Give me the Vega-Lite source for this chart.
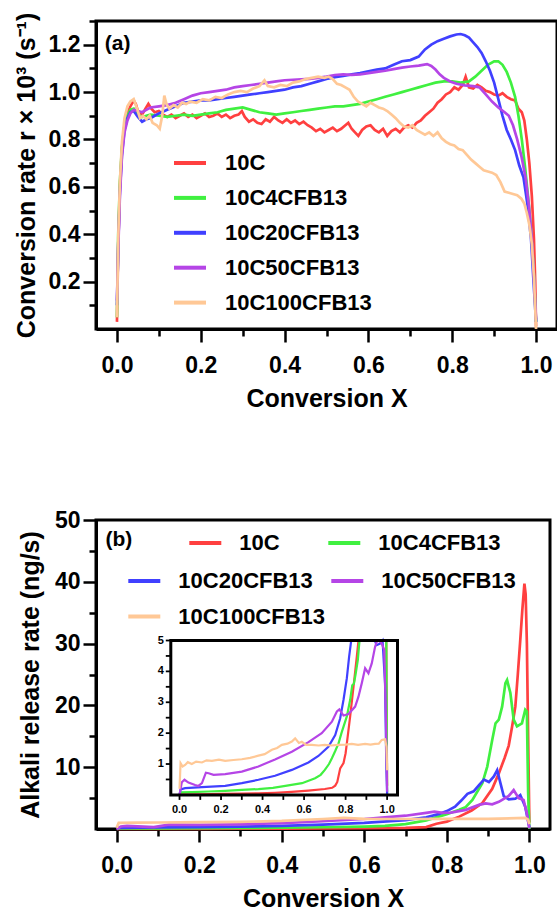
{
"$schema": "https://vega.github.io/schema/vega-lite/v6.json",
"padding": {"left": 12, "top": 10, "right": 0, "bottom": 0},
"spacing": 94,
"config": {
 "font": "Liberation Sans",
 "view": {"stroke": "black", "strokeWidth": 3},
 "axis": {"labelFont": "Liberation Sans", "labelFontWeight": "bold", "labelFontSize": 23, "labelColor": "black", "titleFont": "Liberation Sans", "titleFontWeight": "bold", "titleFontSize": 25, "titleColor": "black", "domainColor": "black", "domainWidth": 3, "tickColor": "black", "tickWidth": 2.5, "grid": false, "labelOverlap": false},
 "legend": {"labelFont": "Liberation Sans", "labelFontWeight": "bold", "labelFontSize": 22, "labelColor": "black", "labelLimit": 300, "padding": 0}
},
"resolve": {"scale": {"color": "independent", "stroke": "independent"}},
"datasets": {
"a": [
{"s":"10C","x":0,"y":0.03},{"s":"10C","x":0.003,"y":0.35},{"s":"10C","x":0.007,"y":0.6},{"s":"10C","x":0.012,"y":0.76},{"s":"10C","x":0.018,"y":0.86},{"s":"10C","x":0.025,"y":0.91},{"s":"10C","x":0.032,"y":0.94},{"s":"10C","x":0.04,"y":0.965},{"s":"10C","x":0.045,"y":0.95},{"s":"10C","x":0.05,"y":0.92},{"s":"10C","x":0.06,"y":0.905},{"s":"10C","x":0.068,"y":0.93},{"s":"10C","x":0.075,"y":0.95},{"s":"10C","x":0.082,"y":0.93},{"s":"10C","x":0.09,"y":0.915},{"s":"10C","x":0.1,"y":0.92},{"s":"10C","x":0.11,"y":0.905},{"s":"10C","x":0.12,"y":0.895},{"s":"10C","x":0.13,"y":0.905},{"s":"10C","x":0.14,"y":0.89},{"s":"10C","x":0.15,"y":0.9},{"s":"10C","x":0.16,"y":0.91},{"s":"10C","x":0.17,"y":0.895},{"s":"10C","x":0.18,"y":0.905},{"s":"10C","x":0.19,"y":0.89},{"s":"10C","x":0.2,"y":0.9},{"s":"10C","x":0.21,"y":0.91},{"s":"10C","x":0.22,"y":0.895},{"s":"10C","x":0.23,"y":0.9},{"s":"10C","x":0.24,"y":0.91},{"s":"10C","x":0.25,"y":0.895},{"s":"10C","x":0.26,"y":0.905},{"s":"10C","x":0.27,"y":0.89},{"s":"10C","x":0.28,"y":0.9},{"s":"10C","x":0.29,"y":0.905},{"s":"10C","x":0.298,"y":0.92},{"s":"10C","x":0.305,"y":0.895},{"s":"10C","x":0.315,"y":0.875},{"s":"10C","x":0.325,"y":0.885},{"s":"10C","x":0.335,"y":0.87},{"s":"10C","x":0.345,"y":0.865},{"s":"10C","x":0.355,"y":0.885},{"s":"10C","x":0.365,"y":0.875},{"s":"10C","x":0.375,"y":0.895},{"s":"10C","x":0.385,"y":0.88},{"s":"10C","x":0.395,"y":0.87},{"s":"10C","x":0.405,"y":0.885},{"s":"10C","x":0.415,"y":0.87},{"s":"10C","x":0.425,"y":0.88},{"s":"10C","x":0.435,"y":0.865},{"s":"10C","x":0.445,"y":0.875},{"s":"10C","x":0.455,"y":0.86},{"s":"10C","x":0.465,"y":0.85},{"s":"10C","x":0.475,"y":0.835},{"s":"10C","x":0.485,"y":0.845},{"s":"10C","x":0.495,"y":0.83},{"s":"10C","x":0.505,"y":0.84},{"s":"10C","x":0.515,"y":0.85},{"s":"10C","x":0.525,"y":0.835},{"s":"10C","x":0.535,"y":0.845},{"s":"10C","x":0.545,"y":0.86},{"s":"10C","x":0.552,"y":0.87},{"s":"10C","x":0.56,"y":0.845},{"s":"10C","x":0.568,"y":0.83},{"s":"10C","x":0.576,"y":0.815},{"s":"10C","x":0.585,"y":0.84},{"s":"10C","x":0.595,"y":0.855},{"s":"10C","x":0.605,"y":0.86},{"s":"10C","x":0.615,"y":0.84},{"s":"10C","x":0.625,"y":0.83},{"s":"10C","x":0.635,"y":0.845},{"s":"10C","x":0.645,"y":0.815},{"s":"10C","x":0.655,"y":0.835},{"s":"10C","x":0.665,"y":0.845},{"s":"10C","x":0.675,"y":0.83},{"s":"10C","x":0.685,"y":0.85},{"s":"10C","x":0.695,"y":0.86},{"s":"10C","x":0.705,"y":0.85},{"s":"10C","x":0.715,"y":0.87},{"s":"10C","x":0.725,"y":0.88},{"s":"10C","x":0.735,"y":0.9},{"s":"10C","x":0.745,"y":0.915},{"s":"10C","x":0.755,"y":0.93},{"s":"10C","x":0.765,"y":0.955},{"s":"10C","x":0.775,"y":0.97},{"s":"10C","x":0.785,"y":0.99},{"s":"10C","x":0.795,"y":1.0},{"s":"10C","x":0.805,"y":1.02},{"s":"10C","x":0.815,"y":1.01},{"s":"10C","x":0.825,"y":1.03},{"s":"10C","x":0.832,"y":1.065},{"s":"10C","x":0.84,"y":1.02},{"s":"10C","x":0.85,"y":1.015},{"s":"10C","x":0.86,"y":1.03},{"s":"10C","x":0.87,"y":1.02},{"s":"10C","x":0.88,"y":1.005},{"s":"10C","x":0.89,"y":1.0},{"s":"10C","x":0.9,"y":0.99},{"s":"10C","x":0.91,"y":0.985},{"s":"10C","x":0.92,"y":0.995},{"s":"10C","x":0.93,"y":0.98},{"s":"10C","x":0.94,"y":0.97},{"s":"10C","x":0.95,"y":0.965},{"s":"10C","x":0.958,"y":0.93},{"s":"10C","x":0.966,"y":0.915},{"s":"10C","x":0.972,"y":0.88},{"s":"10C","x":0.978,"y":0.8},{"s":"10C","x":0.984,"y":0.7},{"s":"10C","x":0.99,"y":0.56},{"s":"10C","x":0.995,"y":0.38},{"s":"10C","x":0.998,"y":0.2},{"s":"10C","x":1.0,"y":0.01},
{"s":"10C4CFB13","x":0,"y":0.05},{"s":"10C4CFB13","x":0.003,"y":0.4},{"s":"10C4CFB13","x":0.007,"y":0.62},{"s":"10C4CFB13","x":0.012,"y":0.77},{"s":"10C4CFB13","x":0.018,"y":0.86},{"s":"10C4CFB13","x":0.025,"y":0.9},{"s":"10C4CFB13","x":0.032,"y":0.925},{"s":"10C4CFB13","x":0.04,"y":0.93},{"s":"10C4CFB13","x":0.05,"y":0.905},{"s":"10C4CFB13","x":0.06,"y":0.895},{"s":"10C4CFB13","x":0.07,"y":0.9},{"s":"10C4CFB13","x":0.08,"y":0.905},{"s":"10C4CFB13","x":0.1,"y":0.9},{"s":"10C4CFB13","x":0.12,"y":0.895},{"s":"10C4CFB13","x":0.14,"y":0.9},{"s":"10C4CFB13","x":0.16,"y":0.905},{"s":"10C4CFB13","x":0.18,"y":0.9},{"s":"10C4CFB13","x":0.2,"y":0.905},{"s":"10C4CFB13","x":0.22,"y":0.91},{"s":"10C4CFB13","x":0.24,"y":0.915},{"s":"10C4CFB13","x":0.26,"y":0.925},{"s":"10C4CFB13","x":0.28,"y":0.93},{"s":"10C4CFB13","x":0.3,"y":0.935},{"s":"10C4CFB13","x":0.32,"y":0.925},{"s":"10C4CFB13","x":0.34,"y":0.915},{"s":"10C4CFB13","x":0.36,"y":0.91},{"s":"10C4CFB13","x":0.38,"y":0.905},{"s":"10C4CFB13","x":0.4,"y":0.91},{"s":"10C4CFB13","x":0.42,"y":0.915},{"s":"10C4CFB13","x":0.44,"y":0.92},{"s":"10C4CFB13","x":0.46,"y":0.925},{"s":"10C4CFB13","x":0.48,"y":0.93},{"s":"10C4CFB13","x":0.5,"y":0.935},{"s":"10C4CFB13","x":0.52,"y":0.94},{"s":"10C4CFB13","x":0.54,"y":0.94},{"s":"10C4CFB13","x":0.56,"y":0.945},{"s":"10C4CFB13","x":0.58,"y":0.95},{"s":"10C4CFB13","x":0.6,"y":0.96},{"s":"10C4CFB13","x":0.62,"y":0.97},{"s":"10C4CFB13","x":0.64,"y":0.98},{"s":"10C4CFB13","x":0.66,"y":0.99},{"s":"10C4CFB13","x":0.68,"y":1.0},{"s":"10C4CFB13","x":0.7,"y":1.01},{"s":"10C4CFB13","x":0.72,"y":1.02},{"s":"10C4CFB13","x":0.74,"y":1.03},{"s":"10C4CFB13","x":0.76,"y":1.04},{"s":"10C4CFB13","x":0.78,"y":1.045},{"s":"10C4CFB13","x":0.8,"y":1.045},{"s":"10C4CFB13","x":0.82,"y":1.04},{"s":"10C4CFB13","x":0.84,"y":1.045},{"s":"10C4CFB13","x":0.855,"y":1.065},{"s":"10C4CFB13","x":0.87,"y":1.09},{"s":"10C4CFB13","x":0.885,"y":1.115},{"s":"10C4CFB13","x":0.9,"y":1.13},{"s":"10C4CFB13","x":0.91,"y":1.13},{"s":"10C4CFB13","x":0.92,"y":1.115},{"s":"10C4CFB13","x":0.93,"y":1.085},{"s":"10C4CFB13","x":0.94,"y":1.04},{"s":"10C4CFB13","x":0.95,"y":0.98},{"s":"10C4CFB13","x":0.958,"y":0.9},{"s":"10C4CFB13","x":0.966,"y":0.8},{"s":"10C4CFB13","x":0.974,"y":0.68},{"s":"10C4CFB13","x":0.982,"y":0.54},{"s":"10C4CFB13","x":0.988,"y":0.42},{"s":"10C4CFB13","x":0.994,"y":0.26},{"s":"10C4CFB13","x":1.0,"y":0.03},
{"s":"10C20CFB13","x":0,"y":0.1},{"s":"10C20CFB13","x":0.003,"y":0.35},{"s":"10C20CFB13","x":0.007,"y":0.58},{"s":"10C20CFB13","x":0.012,"y":0.74},{"s":"10C20CFB13","x":0.018,"y":0.84},{"s":"10C20CFB13","x":0.025,"y":0.89},{"s":"10C20CFB13","x":0.032,"y":0.915},{"s":"10C20CFB13","x":0.04,"y":0.92},{"s":"10C20CFB13","x":0.05,"y":0.895},{"s":"10C20CFB13","x":0.06,"y":0.875},{"s":"10C20CFB13","x":0.07,"y":0.885},{"s":"10C20CFB13","x":0.08,"y":0.89},{"s":"10C20CFB13","x":0.09,"y":0.9},{"s":"10C20CFB13","x":0.1,"y":0.91},{"s":"10C20CFB13","x":0.12,"y":0.925},{"s":"10C20CFB13","x":0.14,"y":0.94},{"s":"10C20CFB13","x":0.16,"y":0.955},{"s":"10C20CFB13","x":0.18,"y":0.96},{"s":"10C20CFB13","x":0.2,"y":0.965},{"s":"10C20CFB13","x":0.22,"y":0.965},{"s":"10C20CFB13","x":0.24,"y":0.97},{"s":"10C20CFB13","x":0.26,"y":0.975},{"s":"10C20CFB13","x":0.28,"y":0.98},{"s":"10C20CFB13","x":0.3,"y":0.985},{"s":"10C20CFB13","x":0.32,"y":0.99},{"s":"10C20CFB13","x":0.34,"y":0.995},{"s":"10C20CFB13","x":0.36,"y":1.0},{"s":"10C20CFB13","x":0.38,"y":1.005},{"s":"10C20CFB13","x":0.4,"y":1.01},{"s":"10C20CFB13","x":0.42,"y":1.02},{"s":"10C20CFB13","x":0.44,"y":1.025},{"s":"10C20CFB13","x":0.46,"y":1.035},{"s":"10C20CFB13","x":0.48,"y":1.045},{"s":"10C20CFB13","x":0.5,"y":1.055},{"s":"10C20CFB13","x":0.52,"y":1.063},{"s":"10C20CFB13","x":0.54,"y":1.068},{"s":"10C20CFB13","x":0.56,"y":1.075},{"s":"10C20CFB13","x":0.58,"y":1.08},{"s":"10C20CFB13","x":0.6,"y":1.088},{"s":"10C20CFB13","x":0.62,"y":1.095},{"s":"10C20CFB13","x":0.64,"y":1.1},{"s":"10C20CFB13","x":0.66,"y":1.115},{"s":"10C20CFB13","x":0.68,"y":1.13},{"s":"10C20CFB13","x":0.7,"y":1.135},{"s":"10C20CFB13","x":0.72,"y":1.15},{"s":"10C20CFB13","x":0.735,"y":1.18},{"s":"10C20CFB13","x":0.75,"y":1.2},{"s":"10C20CFB13","x":0.765,"y":1.215},{"s":"10C20CFB13","x":0.78,"y":1.225},{"s":"10C20CFB13","x":0.795,"y":1.235},{"s":"10C20CFB13","x":0.81,"y":1.243},{"s":"10C20CFB13","x":0.82,"y":1.245},{"s":"10C20CFB13","x":0.83,"y":1.24},{"s":"10C20CFB13","x":0.84,"y":1.23},{"s":"10C20CFB13","x":0.85,"y":1.21},{"s":"10C20CFB13","x":0.86,"y":1.19},{"s":"10C20CFB13","x":0.87,"y":1.165},{"s":"10C20CFB13","x":0.88,"y":1.13},{"s":"10C20CFB13","x":0.89,"y":1.09},{"s":"10C20CFB13","x":0.9,"y":1.04},{"s":"10C20CFB13","x":0.91,"y":0.97},{"s":"10C20CFB13","x":0.92,"y":0.9},{"s":"10C20CFB13","x":0.93,"y":0.84},{"s":"10C20CFB13","x":0.94,"y":0.8},{"s":"10C20CFB13","x":0.95,"y":0.755},{"s":"10C20CFB13","x":0.96,"y":0.69},{"s":"10C20CFB13","x":0.97,"y":0.64},{"s":"10C20CFB13","x":0.98,"y":0.52},{"s":"10C20CFB13","x":0.988,"y":0.38},{"s":"10C20CFB13","x":0.994,"y":0.2},{"s":"10C20CFB13","x":1.0,"y":0.03},
{"s":"10C50CFB13","x":0,"y":0.12},{"s":"10C50CFB13","x":0.003,"y":0.33},{"s":"10C50CFB13","x":0.007,"y":0.56},{"s":"10C50CFB13","x":0.012,"y":0.73},{"s":"10C50CFB13","x":0.018,"y":0.83},{"s":"10C50CFB13","x":0.025,"y":0.88},{"s":"10C50CFB13","x":0.032,"y":0.91},{"s":"10C50CFB13","x":0.04,"y":0.925},{"s":"10C50CFB13","x":0.05,"y":0.92},{"s":"10C50CFB13","x":0.06,"y":0.915},{"s":"10C50CFB13","x":0.07,"y":0.925},{"s":"10C50CFB13","x":0.08,"y":0.935},{"s":"10C50CFB13","x":0.1,"y":0.94},{"s":"10C50CFB13","x":0.12,"y":0.945},{"s":"10C50CFB13","x":0.14,"y":0.955},{"s":"10C50CFB13","x":0.16,"y":0.97},{"s":"10C50CFB13","x":0.18,"y":0.985},{"s":"10C50CFB13","x":0.2,"y":0.995},{"s":"10C50CFB13","x":0.22,"y":1.0},{"s":"10C50CFB13","x":0.24,"y":1.005},{"s":"10C50CFB13","x":0.26,"y":1.01},{"s":"10C50CFB13","x":0.28,"y":1.02},{"s":"10C50CFB13","x":0.3,"y":1.025},{"s":"10C50CFB13","x":0.32,"y":1.03},{"s":"10C50CFB13","x":0.34,"y":1.035},{"s":"10C50CFB13","x":0.36,"y":1.04},{"s":"10C50CFB13","x":0.38,"y":1.045},{"s":"10C50CFB13","x":0.4,"y":1.05},{"s":"10C50CFB13","x":0.42,"y":1.052},{"s":"10C50CFB13","x":0.44,"y":1.054},{"s":"10C50CFB13","x":0.46,"y":1.056},{"s":"10C50CFB13","x":0.48,"y":1.06},{"s":"10C50CFB13","x":0.5,"y":1.065},{"s":"10C50CFB13","x":0.52,"y":1.072},{"s":"10C50CFB13","x":0.54,"y":1.075},{"s":"10C50CFB13","x":0.56,"y":1.073},{"s":"10C50CFB13","x":0.58,"y":1.075},{"s":"10C50CFB13","x":0.6,"y":1.08},{"s":"10C50CFB13","x":0.62,"y":1.085},{"s":"10C50CFB13","x":0.64,"y":1.09},{"s":"10C50CFB13","x":0.66,"y":1.097},{"s":"10C50CFB13","x":0.68,"y":1.103},{"s":"10C50CFB13","x":0.7,"y":1.108},{"s":"10C50CFB13","x":0.72,"y":1.112},{"s":"10C50CFB13","x":0.74,"y":1.118},{"s":"10C50CFB13","x":0.75,"y":1.11},{"s":"10C50CFB13","x":0.76,"y":1.095},{"s":"10C50CFB13","x":0.77,"y":1.075},{"s":"10C50CFB13","x":0.78,"y":1.06},{"s":"10C50CFB13","x":0.795,"y":1.045},{"s":"10C50CFB13","x":0.81,"y":1.035},{"s":"10C50CFB13","x":0.83,"y":1.028},{"s":"10C50CFB13","x":0.85,"y":1.025},{"s":"10C50CFB13","x":0.865,"y":1.02},{"s":"10C50CFB13","x":0.88,"y":0.99},{"s":"10C50CFB13","x":0.895,"y":0.96},{"s":"10C50CFB13","x":0.91,"y":0.935},{"s":"10C50CFB13","x":0.925,"y":0.915},{"s":"10C50CFB13","x":0.935,"y":0.9},{"s":"10C50CFB13","x":0.945,"y":0.86},{"s":"10C50CFB13","x":0.955,"y":0.8},{"s":"10C50CFB13","x":0.965,"y":0.73},{"s":"10C50CFB13","x":0.975,"y":0.64},{"s":"10C50CFB13","x":0.983,"y":0.52},{"s":"10C50CFB13","x":0.99,"y":0.38},{"s":"10C50CFB13","x":0.995,"y":0.22},{"s":"10C50CFB13","x":1.0,"y":0.04},
{"s":"10C100CFB13","x":0,"y":0.05},{"s":"10C100CFB13","x":0.003,"y":0.38},{"s":"10C100CFB13","x":0.007,"y":0.62},{"s":"10C100CFB13","x":0.012,"y":0.79},{"s":"10C100CFB13","x":0.018,"y":0.89},{"s":"10C100CFB13","x":0.025,"y":0.94},{"s":"10C100CFB13","x":0.032,"y":0.96},{"s":"10C100CFB13","x":0.04,"y":0.97},{"s":"10C100CFB13","x":0.048,"y":0.93},{"s":"10C100CFB13","x":0.055,"y":0.89},{"s":"10C100CFB13","x":0.062,"y":0.9},{"s":"10C100CFB13","x":0.07,"y":0.885},{"s":"10C100CFB13","x":0.078,"y":0.9},{"s":"10C100CFB13","x":0.085,"y":0.87},{"s":"10C100CFB13","x":0.095,"y":0.86},{"s":"10C100CFB13","x":0.102,"y":0.845},{"s":"10C100CFB13","x":0.108,"y":0.9},{"s":"10C100CFB13","x":0.113,"y":0.985},{"s":"10C100CFB13","x":0.118,"y":0.95},{"s":"10C100CFB13","x":0.125,"y":0.93},{"s":"10C100CFB13","x":0.135,"y":0.945},{"s":"10C100CFB13","x":0.145,"y":0.935},{"s":"10C100CFB13","x":0.155,"y":0.955},{"s":"10C100CFB13","x":0.165,"y":0.95},{"s":"10C100CFB13","x":0.175,"y":0.96},{"s":"10C100CFB13","x":0.19,"y":0.955},{"s":"10C100CFB13","x":0.205,"y":0.97},{"s":"10C100CFB13","x":0.22,"y":0.965},{"s":"10C100CFB13","x":0.235,"y":0.98},{"s":"10C100CFB13","x":0.25,"y":0.975},{"s":"10C100CFB13","x":0.265,"y":0.99},{"s":"10C100CFB13","x":0.28,"y":1.0},{"s":"10C100CFB13","x":0.295,"y":1.005},{"s":"10C100CFB13","x":0.31,"y":1.0},{"s":"10C100CFB13","x":0.325,"y":1.015},{"s":"10C100CFB13","x":0.34,"y":1.025},{"s":"10C100CFB13","x":0.352,"y":1.05},{"s":"10C100CFB13","x":0.36,"y":1.025},{"s":"10C100CFB13","x":0.375,"y":1.02},{"s":"10C100CFB13","x":0.39,"y":1.03},{"s":"10C100CFB13","x":0.405,"y":1.025},{"s":"10C100CFB13","x":0.42,"y":1.04},{"s":"10C100CFB13","x":0.435,"y":1.045},{"s":"10C100CFB13","x":0.45,"y":1.055},{"s":"10C100CFB13","x":0.465,"y":1.06},{"s":"10C100CFB13","x":0.48,"y":1.065},{"s":"10C100CFB13","x":0.495,"y":1.06},{"s":"10C100CFB13","x":0.505,"y":1.065},{"s":"10C100CFB13","x":0.515,"y":1.055},{"s":"10C100CFB13","x":0.525,"y":1.035},{"s":"10C100CFB13","x":0.535,"y":1.03},{"s":"10C100CFB13","x":0.545,"y":1.02},{"s":"10C100CFB13","x":0.555,"y":1.01},{"s":"10C100CFB13","x":0.565,"y":0.98},{"s":"10C100CFB13","x":0.575,"y":0.96},{"s":"10C100CFB13","x":0.585,"y":0.95},{"s":"10C100CFB13","x":0.595,"y":0.94},{"s":"10C100CFB13","x":0.605,"y":0.955},{"s":"10C100CFB13","x":0.615,"y":0.945},{"s":"10C100CFB13","x":0.625,"y":0.935},{"s":"10C100CFB13","x":0.635,"y":0.93},{"s":"10C100CFB13","x":0.645,"y":0.92},{"s":"10C100CFB13","x":0.655,"y":0.905},{"s":"10C100CFB13","x":0.665,"y":0.89},{"s":"10C100CFB13","x":0.675,"y":0.87},{"s":"10C100CFB13","x":0.685,"y":0.855},{"s":"10C100CFB13","x":0.695,"y":0.85},{"s":"10C100CFB13","x":0.705,"y":0.86},{"s":"10C100CFB13","x":0.715,"y":0.84},{"s":"10C100CFB13","x":0.725,"y":0.83},{"s":"10C100CFB13","x":0.735,"y":0.82},{"s":"10C100CFB13","x":0.745,"y":0.83},{"s":"10C100CFB13","x":0.755,"y":0.815},{"s":"10C100CFB13","x":0.765,"y":0.83},{"s":"10C100CFB13","x":0.775,"y":0.805},{"s":"10C100CFB13","x":0.785,"y":0.79},{"s":"10C100CFB13","x":0.795,"y":0.78},{"s":"10C100CFB13","x":0.805,"y":0.775},{"s":"10C100CFB13","x":0.815,"y":0.76},{"s":"10C100CFB13","x":0.825,"y":0.755},{"s":"10C100CFB13","x":0.835,"y":0.735},{"s":"10C100CFB13","x":0.845,"y":0.715},{"s":"10C100CFB13","x":0.855,"y":0.7},{"s":"10C100CFB13","x":0.865,"y":0.685},{"s":"10C100CFB13","x":0.875,"y":0.67},{"s":"10C100CFB13","x":0.885,"y":0.665},{"s":"10C100CFB13","x":0.895,"y":0.66},{"s":"10C100CFB13","x":0.905,"y":0.65},{"s":"10C100CFB13","x":0.915,"y":0.62},{"s":"10C100CFB13","x":0.925,"y":0.58},{"s":"10C100CFB13","x":0.935,"y":0.575},{"s":"10C100CFB13","x":0.945,"y":0.57},{"s":"10C100CFB13","x":0.955,"y":0.565},{"s":"10C100CFB13","x":0.965,"y":0.55},{"s":"10C100CFB13","x":0.972,"y":0.53},{"s":"10C100CFB13","x":0.978,"y":0.49},{"s":"10C100CFB13","x":0.984,"y":0.44},{"s":"10C100CFB13","x":0.99,"y":0.36},{"s":"10C100CFB13","x":0.995,"y":0.22},{"s":"10C100CFB13","x":1.0,"y":0.0}
],
"b": [
{"s":"10C","x":0,"y":0},{"s":"10C","x":0.1,"y":0.02},{"s":"10C","x":0.2,"y":0.03},{"s":"10C","x":0.3,"y":0.04},{"s":"10C","x":0.4,"y":0.05},{"s":"10C","x":0.5,"y":0.08},{"s":"10C","x":0.6,"y":0.12},{"s":"10C","x":0.7,"y":0.19},{"s":"10C","x":0.75,"y":0.3},{"s":"10C","x":0.775,"y":0.85},{"s":"10C","x":0.8,"y":1.2},{"s":"10C","x":0.83,"y":2.0},{"s":"10C","x":0.86,"y":3.0},{"s":"10C","x":0.886,"y":4.2},{"s":"10C","x":0.91,"y":6.5},{"s":"10C","x":0.926,"y":9.0},{"s":"10C","x":0.94,"y":11.5},{"s":"10C","x":0.95,"y":13.5},{"s":"10C","x":0.958,"y":16.5},{"s":"10C","x":0.966,"y":19.8},{"s":"10C","x":0.972,"y":25},{"s":"10C","x":0.978,"y":30.6},{"s":"10C","x":0.983,"y":35.5},{"s":"10C","x":0.988,"y":39.7},{"s":"10C","x":0.991,"y":38},{"s":"10C","x":0.994,"y":30},{"s":"10C","x":0.997,"y":15},{"s":"10C","x":1.0,"y":1.0},
{"s":"10C4CFB13","x":0,"y":0},{"s":"10C4CFB13","x":0.005,"y":0.08},{"s":"10C4CFB13","x":0.1,"y":0.1},{"s":"10C4CFB13","x":0.2,"y":0.13},{"s":"10C4CFB13","x":0.3,"y":0.16},{"s":"10C4CFB13","x":0.4,"y":0.2},{"s":"10C4CFB13","x":0.5,"y":0.28},{"s":"10C4CFB13","x":0.6,"y":0.4},{"s":"10C4CFB13","x":0.65,"y":0.52},{"s":"10C4CFB13","x":0.7,"y":0.8},{"s":"10C4CFB13","x":0.75,"y":1.4},{"s":"10C4CFB13","x":0.78,"y":2.0},{"s":"10C4CFB13","x":0.8,"y":2.4},{"s":"10C4CFB13","x":0.83,"y":3.1},{"s":"10C4CFB13","x":0.845,"y":3.5},{"s":"10C4CFB13","x":0.862,"y":4.7},{"s":"10C4CFB13","x":0.886,"y":7.4},{"s":"10C4CFB13","x":0.898,"y":10.1},{"s":"10C4CFB13","x":0.91,"y":14.4},{"s":"10C4CFB13","x":0.918,"y":17.1},{"s":"10C4CFB13","x":0.926,"y":17.7},{"s":"10C4CFB13","x":0.934,"y":19.8},{"s":"10C4CFB13","x":0.942,"y":23.6},{"s":"10C4CFB13","x":0.946,"y":24.1},{"s":"10C4CFB13","x":0.954,"y":22},{"s":"10C4CFB13","x":0.962,"y":17.7},{"s":"10C4CFB13","x":0.97,"y":16.6},{"s":"10C4CFB13","x":0.982,"y":17.1},{"s":"10C4CFB13","x":0.99,"y":19.3},{"s":"10C4CFB13","x":0.994,"y":19.0},{"s":"10C4CFB13","x":0.997,"y":6},{"s":"10C4CFB13","x":1.0,"y":0},
{"s":"10C20CFB13","x":0,"y":0},{"s":"10C20CFB13","x":0.005,"y":0.18},{"s":"10C20CFB13","x":0.1,"y":0.25},{"s":"10C20CFB13","x":0.2,"y":0.29},{"s":"10C20CFB13","x":0.3,"y":0.38},{"s":"10C20CFB13","x":0.4,"y":0.5},{"s":"10C20CFB13","x":0.5,"y":0.7},{"s":"10C20CFB13","x":0.6,"y":0.98},{"s":"10C20CFB13","x":0.7,"y":1.45},{"s":"10C20CFB13","x":0.75,"y":1.9},{"s":"10C20CFB13","x":0.78,"y":2.4},{"s":"10C20CFB13","x":0.8,"y":2.9},{"s":"10C20CFB13","x":0.82,"y":3.6},{"s":"10C20CFB13","x":0.835,"y":4.6},{"s":"10C20CFB13","x":0.85,"y":5.7},{"s":"10C20CFB13","x":0.865,"y":6.1},{"s":"10C20CFB13","x":0.878,"y":7.1},{"s":"10C20CFB13","x":0.89,"y":8.0},{"s":"10C20CFB13","x":0.902,"y":7.6},{"s":"10C20CFB13","x":0.914,"y":8.5},{"s":"10C20CFB13","x":0.922,"y":9.5},{"s":"10C20CFB13","x":0.93,"y":7.4},{"s":"10C20CFB13","x":0.938,"y":5.3},{"s":"10C20CFB13","x":0.95,"y":4.8},{"s":"10C20CFB13","x":0.966,"y":4.9},{"s":"10C20CFB13","x":0.978,"y":5.5},{"s":"10C20CFB13","x":0.99,"y":3.6},{"s":"10C20CFB13","x":1.0,"y":0.3},
{"s":"10C50CFB13","x":0,"y":0},{"s":"10C50CFB13","x":0.01,"y":0.4},{"s":"10C50CFB13","x":0.025,"y":0.5},{"s":"10C50CFB13","x":0.09,"y":0.3},{"s":"10C50CFB13","x":0.127,"y":0.72},{"s":"10C50CFB13","x":0.2,"y":0.67},{"s":"10C50CFB13","x":0.3,"y":0.76},{"s":"10C50CFB13","x":0.4,"y":0.95},{"s":"10C50CFB13","x":0.5,"y":1.25},{"s":"10C50CFB13","x":0.6,"y":1.62},{"s":"10C50CFB13","x":0.7,"y":2.15},{"s":"10C50CFB13","x":0.75,"y":2.6},{"s":"10C50CFB13","x":0.77,"y":2.8},{"s":"10C50CFB13","x":0.79,"y":2.6},{"s":"10C50CFB13","x":0.81,"y":2.65},{"s":"10C50CFB13","x":0.846,"y":3.1},{"s":"10C50CFB13","x":0.878,"y":3.9},{"s":"10C50CFB13","x":0.894,"y":4.15},{"s":"10C50CFB13","x":0.91,"y":4.0},{"s":"10C50CFB13","x":0.926,"y":4.4},{"s":"10C50CFB13","x":0.95,"y":5.35},{"s":"10C50CFB13","x":0.962,"y":6.3},{"s":"10C50CFB13","x":0.974,"y":5.0},{"s":"10C50CFB13","x":0.986,"y":4.7},{"s":"10C50CFB13","x":0.994,"y":2.5},{"s":"10C50CFB13","x":1.0,"y":0.1},
{"s":"10C100CFB13","x":0,"y":0.2},{"s":"10C100CFB13","x":0.005,"y":1.0},{"s":"10C100CFB13","x":0.05,"y":1.03},{"s":"10C100CFB13","x":0.1,"y":1.05},{"s":"10C100CFB13","x":0.2,"y":1.12},{"s":"10C100CFB13","x":0.3,"y":1.16},{"s":"10C100CFB13","x":0.4,"y":1.3},{"s":"10C100CFB13","x":0.5,"y":1.62},{"s":"10C100CFB13","x":0.55,"y":1.8},{"s":"10C100CFB13","x":0.6,"y":1.65},{"s":"10C100CFB13","x":0.7,"y":1.62},{"s":"10C100CFB13","x":0.8,"y":1.65},{"s":"10C100CFB13","x":0.9,"y":1.65},{"s":"10C100CFB13","x":0.97,"y":1.75},{"s":"10C100CFB13","x":0.99,"y":1.8},{"s":"10C100CFB13","x":0.997,"y":1.5},{"s":"10C100CFB13","x":1.0,"y":0.8}
],
"ins": [
{"s":"10C","x":0,"y":0},{"s":"10C","x":0.005,"y":0.02},{"s":"10C","x":0.1,"y":0.02},{"s":"10C","x":0.2,"y":0.03},{"s":"10C","x":0.3,"y":0.04},{"s":"10C","x":0.38,"y":0.05},{"s":"10C","x":0.46,"y":0.07},{"s":"10C","x":0.54,"y":0.1},{"s":"10C","x":0.62,"y":0.14},{"s":"10C","x":0.7,"y":0.19},{"s":"10C","x":0.735,"y":0.23},{"s":"10C","x":0.75,"y":0.3},{"s":"10C","x":0.76,"y":0.42},{"s":"10C","x":0.774,"y":0.86},{"s":"10C","x":0.79,"y":1.03},{"s":"10C","x":0.8,"y":1.35},{"s":"10C","x":0.806,"y":1.67},{"s":"10C","x":0.822,"y":2.54},{"s":"10C","x":0.838,"y":3.5},{"s":"10C","x":0.854,"y":4.48},{"s":"10C","x":0.862,"y":5.0},{"s":"10C","x":0.875,"y":6.0},{"s":"10C","x":0.99,"y":30},{"s":"10C","x":0.996,"y":20},{"s":"10C","x":1.0,"y":0.3},
{"s":"10C4CFB13","x":0,"y":0},{"s":"10C4CFB13","x":0.005,"y":0.08},{"s":"10C4CFB13","x":0.06,"y":0.09},{"s":"10C4CFB13","x":0.14,"y":0.11},{"s":"10C4CFB13","x":0.22,"y":0.13},{"s":"10C4CFB13","x":0.3,"y":0.16},{"s":"10C4CFB13","x":0.38,"y":0.19},{"s":"10C4CFB13","x":0.45,"y":0.23},{"s":"10C4CFB13","x":0.51,"y":0.29},{"s":"10C4CFB13","x":0.59,"y":0.38},{"s":"10C4CFB13","x":0.653,"y":0.54},{"s":"10C4CFB13","x":0.68,"y":0.65},{"s":"10C4CFB13","x":0.7,"y":0.81},{"s":"10C4CFB13","x":0.72,"y":1.0},{"s":"10C4CFB13","x":0.734,"y":1.19},{"s":"10C4CFB13","x":0.75,"y":1.42},{"s":"10C4CFB13","x":0.766,"y":1.67},{"s":"10C4CFB13","x":0.78,"y":2.0},{"s":"10C4CFB13","x":0.79,"y":2.21},{"s":"10C4CFB13","x":0.806,"y":2.54},{"s":"10C4CFB13","x":0.822,"y":3.08},{"s":"10C4CFB13","x":0.832,"y":3.55},{"s":"10C4CFB13","x":0.84,"y":3.6},{"s":"10C4CFB13","x":0.848,"y":3.9},{"s":"10C4CFB13","x":0.859,"y":4.37},{"s":"10C4CFB13","x":0.867,"y":5.0},{"s":"10C4CFB13","x":0.88,"y":6.5},{"s":"10C4CFB13","x":0.99,"y":19},{"s":"10C4CFB13","x":0.996,"y":19},{"s":"10C4CFB13","x":1.0,"y":0},
{"s":"10C20CFB13","x":0,"y":0},{"s":"10C20CFB13","x":0.005,"y":0.18},{"s":"10C20CFB13","x":0.027,"y":0.22},{"s":"10C20CFB13","x":0.108,"y":0.25},{"s":"10C20CFB13","x":0.22,"y":0.29},{"s":"10C20CFB13","x":0.3,"y":0.38},{"s":"10C20CFB13","x":0.38,"y":0.49},{"s":"10C20CFB13","x":0.46,"y":0.62},{"s":"10C20CFB13","x":0.541,"y":0.81},{"s":"10C20CFB13","x":0.621,"y":1.05},{"s":"10C20CFB13","x":0.669,"y":1.26},{"s":"10C20CFB13","x":0.717,"y":1.56},{"s":"10C20CFB13","x":0.75,"y":1.94},{"s":"10C20CFB13","x":0.774,"y":2.48},{"s":"10C20CFB13","x":0.79,"y":3.08},{"s":"10C20CFB13","x":0.806,"y":3.78},{"s":"10C20CFB13","x":0.817,"y":4.48},{"s":"10C20CFB13","x":0.827,"y":5.0},{"s":"10C20CFB13","x":0.84,"y":5.5},{"s":"10C20CFB13","x":0.93,"y":7.4},{"s":"10C20CFB13","x":0.94,"y":5.2},{"s":"10C20CFB13","x":0.95,"y":4.85},{"s":"10C20CFB13","x":0.966,"y":4.9},{"s":"10C20CFB13","x":0.978,"y":5.5},{"s":"10C20CFB13","x":0.99,"y":3.6},{"s":"10C20CFB13","x":0.996,"y":1.0},{"s":"10C20CFB13","x":1.0,"y":0},
{"s":"10C50CFB13","x":0,"y":0},{"s":"10C50CFB13","x":0.011,"y":0.41},{"s":"10C50CFB13","x":0.024,"y":0.49},{"s":"10C50CFB13","x":0.043,"y":0.4},{"s":"10C50CFB13","x":0.075,"y":0.32},{"s":"10C50CFB13","x":0.091,"y":0.29},{"s":"10C50CFB13","x":0.108,"y":0.38},{"s":"10C50CFB13","x":0.127,"y":0.72},{"s":"10C50CFB13","x":0.14,"y":0.7},{"s":"10C50CFB13","x":0.164,"y":0.65},{"s":"10C50CFB13","x":0.22,"y":0.67},{"s":"10C50CFB13","x":0.3,"y":0.755},{"s":"10C50CFB13","x":0.38,"y":0.92},{"s":"10C50CFB13","x":0.46,"y":1.15},{"s":"10C50CFB13","x":0.541,"y":1.4},{"s":"10C50CFB13","x":0.621,"y":1.71},{"s":"10C50CFB13","x":0.685,"y":2.0},{"s":"10C50CFB13","x":0.734,"y":2.37},{"s":"10C50CFB13","x":0.758,"y":2.7},{"s":"10C50CFB13","x":0.77,"y":2.77},{"s":"10C50CFB13","x":0.79,"y":2.57},{"s":"10C50CFB13","x":0.814,"y":2.62},{"s":"10C50CFB13","x":0.846,"y":2.86},{"s":"10C50CFB13","x":0.862,"y":3.18},{"s":"10C50CFB13","x":0.878,"y":3.62},{"s":"10C50CFB13","x":0.894,"y":4.1},{"s":"10C50CFB13","x":0.91,"y":3.94},{"s":"10C50CFB13","x":0.926,"y":4.26},{"s":"10C50CFB13","x":0.942,"y":4.8},{"s":"10C50CFB13","x":0.95,"y":4.96},{"s":"10C50CFB13","x":0.962,"y":5.6},{"s":"10C50CFB13","x":0.974,"y":4.9},{"s":"10C50CFB13","x":0.986,"y":4.7},{"s":"10C50CFB13","x":0.994,"y":2.5},{"s":"10C50CFB13","x":1.0,"y":0.1},
{"s":"10C100CFB13","x":0,"y":0.2},{"s":"10C100CFB13","x":0.005,"y":1.03},{"s":"10C100CFB13","x":0.015,"y":0.92},{"s":"10C100CFB13","x":0.027,"y":0.97},{"s":"10C100CFB13","x":0.04,"y":1.06},{"s":"10C100CFB13","x":0.059,"y":1.0},{"s":"10C100CFB13","x":0.08,"y":1.08},{"s":"10C100CFB13","x":0.108,"y":1.05},{"s":"10C100CFB13","x":0.13,"y":1.12},{"s":"10C100CFB13","x":0.156,"y":1.1},{"s":"10C100CFB13","x":0.19,"y":1.14},{"s":"10C100CFB13","x":0.22,"y":1.1},{"s":"10C100CFB13","x":0.26,"y":1.13},{"s":"10C100CFB13","x":0.3,"y":1.155},{"s":"10C100CFB13","x":0.34,"y":1.2},{"s":"10C100CFB13","x":0.38,"y":1.27},{"s":"10C100CFB13","x":0.41,"y":1.32},{"s":"10C100CFB13","x":0.445,"y":1.46},{"s":"10C100CFB13","x":0.47,"y":1.52},{"s":"10C100CFB13","x":0.493,"y":1.62},{"s":"10C100CFB13","x":0.52,"y":1.66},{"s":"10C100CFB13","x":0.541,"y":1.73},{"s":"10C100CFB13","x":0.557,"y":1.83},{"s":"10C100CFB13","x":0.575,"y":1.68},{"s":"10C100CFB13","x":0.589,"y":1.72},{"s":"10C100CFB13","x":0.61,"y":1.62},{"s":"10C100CFB13","x":0.637,"y":1.62},{"s":"10C100CFB13","x":0.67,"y":1.6},{"s":"10C100CFB13","x":0.7,"y":1.62},{"s":"10C100CFB13","x":0.73,"y":1.6},{"s":"10C100CFB13","x":0.766,"y":1.62},{"s":"10C100CFB13","x":0.8,"y":1.63},{"s":"10C100CFB13","x":0.83,"y":1.65},{"s":"10C100CFB13","x":0.86,"y":1.62},{"s":"10C100CFB13","x":0.894,"y":1.65},{"s":"10C100CFB13","x":0.92,"y":1.63},{"s":"10C100CFB13","x":0.942,"y":1.65},{"s":"10C100CFB13","x":0.96,"y":1.66},{"s":"10C100CFB13","x":0.974,"y":1.78},{"s":"10C100CFB13","x":0.99,"y":1.8},{"s":"10C100CFB13","x":0.997,"y":1.56},{"s":"10C100CFB13","x":1.0,"y":0.8}
],
"iyt": [{"v":0.5},{"v":1},{"v":1.5},{"v":2},{"v":2.5},{"v":3},{"v":3.5},{"v":4},{"v":4.5},{"v":5}],
"iyl": [{"v":1},{"v":2},{"v":3},{"v":4},{"v":5}],
"ixt": [{"v":0},{"v":0.1},{"v":0.2},{"v":0.3},{"v":0.4},{"v":0.5},{"v":0.6},{"v":0.7},{"v":0.8},{"v":0.9},{"v":1.0}],
"ixl": [{"v":0},{"v":0.2},{"v":0.4},{"v":0.6},{"v":0.8},{"v":1.0}],
"la": [{"t": "(a)"}],
"lb": [{"t": "(b)"}]
},
"vconcat": [
{
 "width": 461, "height": 308,
 "resolve": {"axis": {"x": "independent", "y": "independent"}},
 "layer": [
  {
   "data": {"name": "a"},
   "mark": {"type": "line", "strokeWidth": 2.7},
   "encoding": {
    "x": {"field": "x", "type": "quantitative", "scale": {"domain": [-0.05, 1.05], "nice": false, "zero": false},
          "axis": {"orient": "bottom", "values": [0, 0.2, 0.4, 0.6, 0.8, 1.0], "format": ".1f", "title": "Conversion X", "tickSize": 13, "labelPadding": 12, "titlePadding": 9}},
    "y": {"field": "y", "type": "quantitative", "scale": {"domain": [0, 1.3], "nice": false, "zero": false},
          "axis": {"orient": "left", "values": [0.2, 0.4, 0.6, 0.8, 1.0, 1.2], "format": ".1f", "title": "Conversion rate r × 10³ (s⁻¹)", "tickSize": 13, "labelPadding": 3, "titlePadding": 9}},
    "color": {"field": "s", "type": "nominal",
              "scale": {"domain": ["10C", "10C4CFB13", "10C20CFB13", "10C50CFB13", "10C100CFB13"], "range": ["#FF4040", "#40F040", "#4040FF", "#B545E6", "#FFC896"]},
              "legend": {"orient": "none", "legendX": 76, "legendY": 124, "title": null, "symbolType": "stroke", "symbolSize": 1024, "symbolStrokeWidth": 4, "labelOffset": 17, "rowPadding": 5.9}}
   }
  },
  {
   "data": {"name": "la"},
   "mark": {"type": "text", "align": "left", "baseline": "middle", "fontSize": 21, "fontWeight": "bold", "color": "black"},
   "encoding": {
    "x": {"datum": -0.029, "type": "quantitative", "scale": {"domain": [-0.05, 1.05], "nice": false, "zero": false},
          "axis": {"orient": "bottom", "values": [0.1, 0.3, 0.5, 0.7, 0.9], "labels": false, "domain": false, "tickSize": 7, "title": null}},
    "y": {"datum": 1.203, "type": "quantitative", "scale": {"domain": [0, 1.3], "nice": false, "zero": false},
          "axis": {"orient": "left", "values": [0.1, 0.3, 0.5, 0.7, 0.9, 1.1, 1.3], "labels": false, "domain": false, "tickSize": 7, "title": null}},
    "text": {"field": "t"}
   }
  }
 ]
},
{
 "width": 454, "height": 309,
 "resolve": {"scale": {"x": "independent", "y": "independent", "color": "independent"}},
 "layer": [
  {
   "resolve": {"axis": {"x": "independent", "y": "independent"}},
   "layer": [
    {
     "data": {"name": "b"},
     "transform": [{"filter": {"field": "s", "oneOf": ["10C", "10C4CFB13"]}}],
     "mark": {"type": "line", "strokeWidth": 2.7},
     "encoding": {
      "x": {"field": "x", "type": "quantitative", "scale": {"domain": [-0.05, 1.05], "nice": false, "zero": false},
            "axis": {"orient": "bottom", "values": [0, 0.2, 0.4, 0.6, 0.8, 1.0], "format": ".1f", "title": "Conversion X", "tickSize": 13, "labelPadding": 12, "titlePadding": 9}},
      "y": {"field": "y", "type": "quantitative", "scale": {"domain": [0, 50], "nice": false, "zero": false},
            "axis": {"orient": "left", "values": [10, 20, 30, 40, 50], "format": "d", "title": "Alkali release rate (ng/s)", "tickSize": 13, "labelPadding": 3, "titlePadding": 11}},
      "color": {"field": "s", "type": "nominal",
                "scale": {"domain": ["10C", "10C4CFB13"], "range": ["#FF4040", "#40F040"]},
                "legend": {"orient": "none", "legendX": 91.3, "legendY": 5, "title": null, "columns": 2, "direction": "horizontal", "columnPadding": 40, "symbolType": "stroke", "symbolSize": 1024, "symbolStrokeWidth": 4, "labelOffset": 16}}
     }
    },
    {
     "data": {"name": "b"},
     "transform": [{"filter": {"field": "s", "oneOf": ["10C20CFB13", "10C50CFB13", "10C100CFB13"]}}],
     "mark": {"type": "line", "strokeWidth": 2.7},
     "encoding": {
      "x": {"field": "x", "type": "quantitative", "scale": {"domain": [-0.05, 1.05], "nice": false, "zero": false}, "axis": null},
      "y": {"field": "y", "type": "quantitative", "scale": {"domain": [0, 50], "nice": false, "zero": false}, "axis": null},
      "stroke": {"field": "s", "type": "nominal",
                "scale": {"domain": ["10C20CFB13", "10C50CFB13", "10C100CFB13"], "range": ["#4040FF", "#B545E6", "#FFC896"]},
                "legend": {"orient": "none", "legendX": 30.3, "legendY": 43, "title": null, "columns": 2, "direction": "horizontal", "columnPadding": -2, "rowPadding": 6.6, "symbolType": "stroke", "symbolSize": 1024, "symbolStrokeWidth": 4, "labelOffset": 16}}
     }
    },
    {
     "data": {"name": "lb"},
     "mark": {"type": "text", "align": "left", "baseline": "middle", "fontSize": 21, "fontWeight": "bold", "color": "black"},
     "encoding": {
      "x": {"datum": -0.027, "type": "quantitative", "scale": {"domain": [-0.05, 1.05], "nice": false, "zero": false},
            "axis": {"orient": "bottom", "values": [0.1, 0.3, 0.5, 0.7, 0.9], "labels": false, "domain": false, "tickSize": 7, "title": null}},
      "y": {"datum": 46.7, "type": "quantitative", "scale": {"domain": [0, 50], "nice": false, "zero": false},
            "axis": {"orient": "left", "values": [5, 15, 25, 35, 45], "labels": false, "domain": false, "tickSize": 7, "title": null}},
      "text": {"field": "t"}
     }
    }
   ]
  },
  {
   "resolve": {"scale": {"y": "independent"}},
   "layer": [
    {
     "data": {"name": "ins"},
     "mark": {"type": "line", "strokeWidth": 2.2},
     "encoding": {
      "x": {"field": "x", "type": "quantitative", "scale": {"domain": [-0.042, 1.05], "range": [74.8, 301.5], "nice": false, "zero": false}, "axis": null},
      "y": {"field": "y", "type": "quantitative", "scale": {"domain": [0, 5], "range": [274.9, 120.5], "nice": false, "zero": false, "clamp": true}, "axis": null},
      "color": {"field": "s", "type": "nominal",
                "scale": {"domain": ["10C", "10C4CFB13", "10C20CFB13", "10C50CFB13", "10C100CFB13"], "range": ["#FF4040", "#40F040", "#4040FF", "#B545E6", "#FFC896"]},
                "legend": null}
     }
    },
    {
     "layer": [
      {
       "data": {"name": "la"},
       "mark": {"type": "rect", "filled": false, "stroke": "black", "strokeWidth": 3},
       "encoding": {
        "x": {"datum": -0.042, "type": "quantitative", "scale": {"domain": [-0.042, 1.05], "range": [74.8, 301.5], "nice": false, "zero": false}, "axis": null},
        "x2": {"datum": 1.05},
        "y": {"datum": 0, "type": "quantitative", "scale": {"domain": [0, 5], "range": [274.9, 120.5], "nice": false, "zero": false}, "axis": null},
        "y2": {"datum": 5}
       }
      },
      {
       "data": {"name": "iyt"},
       "mark": {"type": "rule", "color": "black", "strokeWidth": 1.8, "x2Offset": -5},
       "encoding": {
        "x": {"datum": -0.042, "type": "quantitative", "scale": {"domain": [-0.042, 1.05], "range": [74.8, 301.5], "nice": false, "zero": false}, "axis": null},
        "x2": {"datum": -0.042},
        "y": {"field": "v", "type": "quantitative", "scale": {"domain": [0, 5], "range": [274.9, 120.5], "nice": false, "zero": false}, "axis": null}
       }
      },
      {
       "data": {"name": "iyl"},
       "mark": {"type": "text", "align": "right", "baseline": "middle", "fontSize": 11, "fontWeight": "bold", "color": "black", "xOffset": -7},
       "encoding": {
        "x": {"datum": -0.042, "type": "quantitative", "scale": {"domain": [-0.042, 1.05], "range": [74.8, 301.5], "nice": false, "zero": false}, "axis": null},
        "y": {"field": "v", "type": "quantitative", "scale": {"domain": [0, 5], "range": [274.9, 120.5], "nice": false, "zero": false}, "axis": null},
        "text": {"field": "v", "type": "quantitative", "format": "d"}
       }
      },
      {
       "data": {"name": "ixt"},
       "mark": {"type": "rule", "color": "black", "strokeWidth": 1.8, "y2Offset": 5},
       "encoding": {
        "x": {"field": "v", "type": "quantitative", "scale": {"domain": [-0.042, 1.05], "range": [74.8, 301.5], "nice": false, "zero": false}, "axis": null},
        "y": {"datum": 0, "type": "quantitative", "scale": {"domain": [0, 5], "range": [274.9, 120.5], "nice": false, "zero": false}, "axis": null},
        "y2": {"datum": 0}
       }
      },
      {
       "data": {"name": "ixl"},
       "mark": {"type": "text", "align": "center", "baseline": "top", "fontSize": 11, "fontWeight": "bold", "color": "black", "yOffset": 9},
       "encoding": {
        "x": {"field": "v", "type": "quantitative", "scale": {"domain": [-0.042, 1.05], "range": [74.8, 301.5], "nice": false, "zero": false}, "axis": null},
        "y": {"datum": 0, "type": "quantitative", "scale": {"domain": [0, 5], "range": [274.9, 120.5], "nice": false, "zero": false}, "axis": null},
        "text": {"field": "v", "type": "quantitative", "format": ".1f"}
       }
      }
     ]
    }
   ]
  }
 ]
}
]
}
